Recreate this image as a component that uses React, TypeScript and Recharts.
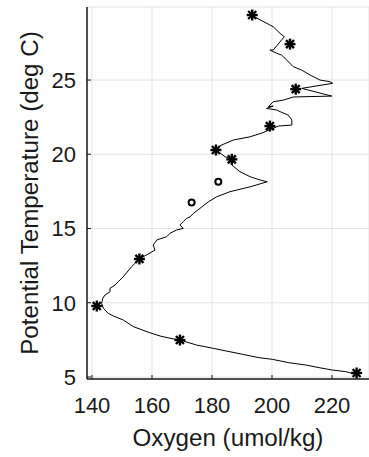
import React from 'react';
import { ScatterChart, Scatter, XAxis, YAxis, CartesianGrid } from 'recharts';

// CTD profile (oxygen vs potential temperature), top to bottom
const profileOxygen = [
  193.6, 194.3, 200.4, 202.7, 204.1, 200.4, 199.3, 201.6, 203.2, 204.9,
  207.1, 209.9, 212.7, 216.0, 219.3, 220.2, 209.9, 219.9, 207.1, 203.8,
  200.4, 198.8, 200.4, 198.2, 201.6, 202.7, 205.4, 206.6, 206.6, 202.1,
  197.7, 196.6, 192.7, 187.1, 182.7, 181.3, 184.3, 186.6, 186.6, 189.3,
  192.7, 196.0, 198.4, 192.7, 186.0, 181.6, 178.8, 176.0, 173.8, 172.7,
  171.6, 170.4, 169.3, 170.4, 168.2, 166.0, 164.9, 161.6, 160.4, 161.0,
  158.2, 156.0, 153.2, 150.4, 148.8, 147.7, 146.0, 146.0, 144.3, 143.6,
  143.2, 143.8, 145.4, 147.1, 150.4, 153.8, 159.3, 162.7, 166.0, 169.3,
  174.9, 180.4, 186.0, 190.1, 195.7, 200.1, 205.7, 211.2, 215.7, 220.1,
  224.6, 227.9,
];
const profileTemp = [
  29.36, 29.24, 28.59, 28.14, 27.92, 27.02, 27.02, 26.80, 26.68, 26.35,
  25.90, 25.67, 25.34, 25.00, 24.89, 24.78, 24.44, 23.92, 23.86, 23.65,
  23.54, 23.20, 23.25, 23.09, 22.98, 22.87, 22.64, 22.31, 21.97, 21.90,
  21.52, 21.43, 21.18, 20.96, 20.58, 20.29, 19.84, 19.66, 19.28, 18.83,
  18.49, 18.27, 18.15, 17.81, 17.48, 17.14, 16.80, 16.36, 16.02, 15.79,
  15.69, 15.46, 15.24, 15.01, 14.90, 14.68, 14.45, 14.23, 13.89, 13.55,
  13.22, 12.99, 12.43, 11.75, 11.42, 11.20, 10.97, 10.74, 10.52, 10.30,
  9.96, 9.63, 9.29, 9.11, 8.84, 8.39, 7.98, 7.76, 7.61, 7.49,
  7.15, 6.93, 6.70, 6.53, 6.30, 6.19, 5.96, 5.81, 5.63, 5.47,
  5.36, 5.18,
];

// bottle samples (asterisks) and flagged samples (open circles)
const starOxygen = [193.4, 206.0, 207.9, 199.3, 181.3, 186.6, 155.8, 141.6, 169.3, 228.2];
const starTemp = [29.38, 27.42, 24.39, 21.9, 20.29, 19.66, 12.95, 9.78, 7.49, 5.27];
const circleOxygen = [182.1, 173.2];
const circleTemp = [18.15, 16.76];

const xTicks = [140, 160, 180, 200, 220];
const yTicks = [5, 10, 15, 20, 25];

const profile = profileOxygen.map((o, i) => ({ o, t: profileTemp[i] }));
const stars = starOxygen.map((o, i) => ({ o, t: starTemp[i] }));
const circles = circleOxygen.map((o, i) => ({ o, t: circleTemp[i] }));

const INK = '#1a1a1a';
const FONT = '"Liberation Sans", Arial, Helvetica, sans-serif';

const BottomTick = (props: any) => {
  const { x, y, payload } = props;
  return (
    <g>
      <line x1={x} y1={y} x2={x} y2={y - 4} stroke={INK} strokeWidth={1} />
      <text x={x} y={y + 34} textAnchor="middle" fontSize={22} fontFamily={FONT} fill={INK}>
        {payload.value}
      </text>
    </g>
  );
};

const TopTick = (props: any) => {
  const { x, y } = props;
  return <line x1={x} y1={y} x2={x} y2={y + 4} stroke={INK} strokeWidth={1} />;
};

const LeftTick = (props: any) => {
  const { x, y, payload } = props;
  return (
    <g>
      <line x1={x} y1={y} x2={x + 4} y2={y} stroke={INK} strokeWidth={1} />
      <text x={x - 11} y={y} dy="0.36em" textAnchor="end" fontSize={22} fontFamily={FONT} fill={INK}>
        {payload.value}
      </text>
    </g>
  );
};

// MATLAB-style '*' marker
const Asterisk = (props: any) => {
  const { cx, cy } = props;
  const a = 5.5;
  const d = 4;
  return (
    <g stroke="#000" strokeWidth={2.4}>
      <line x1={cx - a} y1={cy} x2={cx + a} y2={cy} />
      <line x1={cx} y1={cy - a} x2={cx} y2={cy + a} />
      <line x1={cx - d} y1={cy - d} x2={cx + d} y2={cy + d} />
      <line x1={cx - d} y1={cy + d} x2={cx + d} y2={cy - d} />
    </g>
  );
};

const OpenCircle = (props: any) => {
  const { cx, cy } = props;
  return <circle cx={cx} cy={cy} r={3} fill="none" stroke="#000" strokeWidth={2} />;
};

const NoDot = () => <g />;

export default function App() {
  return (
    <div style={{ position: 'absolute', left: 0, top: 0, width: 369, height: 457, background: '#fff' }}>
      <ScatterChart width={369} height={457} margin={{ top: 7, right: 0, bottom: 0, left: 0 }}>
        <CartesianGrid stroke="#e3e3e3" strokeWidth={1} />
        <XAxis
          type="number"
          dataKey="o"
          domain={[138.33, 232.33]}
          ticks={xTicks}
          allowDataOverflow
          height={78}
          tickSize={0}
          tickMargin={0}
          tickLine={false}
          axisLine={{ stroke: INK, strokeWidth: 1.5 }}
          tick={<BottomTick />}
          label={{
            content: () => (
              <text x={228} y={446} textAnchor="middle" fontSize={24.2} fontFamily={FONT} fill={INK}>
                Oxygen (umol/kg)
              </text>
            ),
          }}
        />
        <XAxis
          xAxisId="top"
          orientation="top"
          type="number"
          dataKey="o"
          domain={[138.33, 232.33]}
          ticks={xTicks}
          allowDataOverflow
          height={0}
          tickSize={0}
          tickMargin={0}
          tickLine={false}
          axisLine={{ stroke: INK, strokeWidth: 1.5 }}
          tick={<TopTick />}
        />
        <YAxis
          type="number"
          dataKey="t"
          domain={[4.865, 29.92]}
          ticks={yTicks}
          allowDataOverflow
          width={87}
          tickSize={0}
          tickMargin={0}
          tickLine={false}
          axisLine={{ stroke: INK, strokeWidth: 1.5 }}
          tick={<LeftTick />}
          label={{
            content: () => (
              <text
                x={37.5}
                y={193}
                transform="rotate(-90 37.5 193)"
                textAnchor="middle"
                fontSize={24.2}
                fontFamily={FONT}
                fill={INK}
              >
                Potential Temperature (deg C)
              </text>
            ),
          }}
        />
        <Scatter
          data={profile}
          line={{ stroke: '#000', strokeWidth: 1 }}
          lineType="joint"
          shape={<NoDot />}
          isAnimationActive={false}
        />
        <Scatter data={stars} shape={<Asterisk />} isAnimationActive={false} />
        <Scatter data={circles} shape={<OpenCircle />} isAnimationActive={false} />
      </ScatterChart>
    </div>
  );
}
